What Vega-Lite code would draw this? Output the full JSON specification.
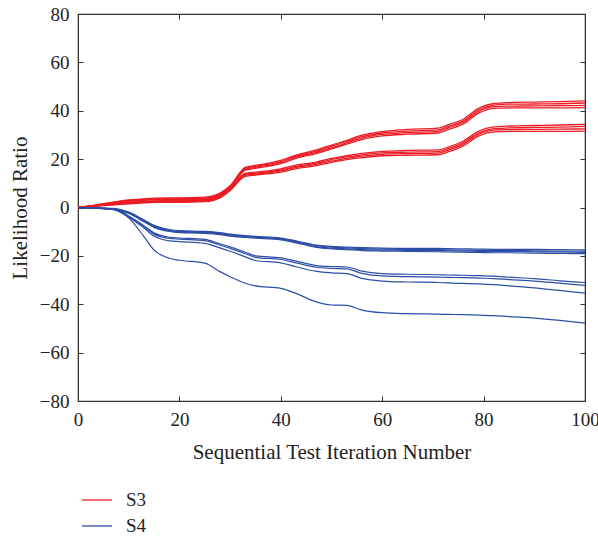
{
  "$schema": "https://vega.github.io/schema/vega-lite/v6.json",
  "width": 507,
  "height": 387,
  "autosize": {"type": "none"},
  "padding": {"left": 78, "top": 14, "right": 13, "bottom": 138},
  "background": "white",
  "config": {
    "view": {"stroke": "#333", "strokeWidth": 1.2},
    "font": "Liberation Serif",
    "axis": {
      "grid": false,
      "domainColor": "#333",
      "tickColor": "#333",
      "tickSize": -5,
      "labelFlush": false,
      "labelFont": "Liberation Serif",
      "titleFont": "Liberation Serif",
      "labelFontSize": 19,
      "titleFontSize": 21,
      "labelColor": "#222",
      "titleColor": "#222",
      "titleFontWeight": "normal"
    }
  },
  "datasets": {
    "red": [
      {"x":0,"U1":0,"U2":0,"U3":0,"U4":0,"L1":0,"L2":0,"L3":0,"L4":0},
      {"x":3,"U1":0.9,"U2":0.8,"U3":0.8,"U4":0.7,"L1":0.6,"L2":0.5,"L3":0.5,"L4":0.4},
      {"x":7,"U1":2.2,"U2":2.1,"U3":1.9,"U4":1.8,"L1":1.5,"L2":1.4,"L3":1.2,"L4":1.1},
      {"x":10,"U1":3.1,"U2":2.9,"U3":2.7,"U4":2.5,"L1":2.1,"L2":1.9,"L3":1.7,"L4":1.5},
      {"x":13,"U1":3.6,"U2":3.4,"U3":3.2,"U4":3.0,"L1":2.5,"L2":2.3,"L3":2.1,"L4":1.9},
      {"x":15,"U1":3.9,"U2":3.6,"U3":3.4,"U4":3.2,"L1":2.7,"L2":2.5,"L3":2.3,"L4":2.1},
      {"x":18,"U1":4.0,"U2":3.7,"U3":3.5,"U4":3.2,"L1":2.9,"L2":2.6,"L3":2.4,"L4":2.1},
      {"x":20,"U1":4.0,"U2":3.7,"U3":3.5,"U4":3.2,"L1":2.9,"L2":2.6,"L3":2.4,"L4":2.1},
      {"x":25,"U1":4.3,"U2":3.9,"U3":3.7,"U4":3.4,"L1":3.2,"L2":2.9,"L3":2.7,"L4":2.4},
      {"x":28,"U1":6.0,"U2":5.6,"U3":5.4,"U4":5.0,"L1":5.0,"L2":4.6,"L3":4.4,"L4":4.0},
      {"x":30,"U1":9.0,"U2":8.7,"U3":8.3,"U4":8.0,"L1":8.0,"L2":7.7,"L3":7.3,"L4":7.0},
      {"x":33,"U1":16.6,"U2":16.2,"U3":15.8,"U4":15.4,"L1":14.1,"L2":13.7,"L3":13.3,"L4":12.9},
      {"x":35,"U1":17.4,"U2":17.0,"U3":16.6,"U4":16.2,"L1":14.6,"L2":14.2,"L3":13.8,"L4":13.4},
      {"x":40,"U1":19.5,"U2":19.0,"U3":18.6,"U4":18.1,"L1":16.0,"L2":15.5,"L3":15.1,"L4":14.6},
      {"x":43,"U1":21.7,"U2":21.2,"U3":20.8,"U4":20.3,"L1":17.5,"L2":17.0,"L3":16.6,"L4":16.1},
      {"x":47,"U1":23.8,"U2":23.3,"U3":22.8,"U4":22.3,"L1":18.8,"L2":18.3,"L3":17.8,"L4":17.3},
      {"x":50,"U1":25.8,"U2":25.3,"U3":24.7,"U4":24.2,"L1":20.3,"L2":19.8,"L3":19.2,"L4":18.7},
      {"x":53,"U1":27.8,"U2":27.3,"U3":26.7,"U4":26.2,"L1":21.4,"L2":20.9,"L3":20.3,"L4":19.8},
      {"x":56,"U1":29.9,"U2":29.3,"U3":28.7,"U4":28.1,"L1":22.4,"L2":21.8,"L3":21.2,"L4":20.6},
      {"x":60,"U1":31.4,"U2":30.8,"U3":30.2,"U4":29.6,"L1":23.2,"L2":22.6,"L3":22.0,"L4":21.4},
      {"x":65,"U1":32.3,"U2":31.6,"U3":31.0,"U4":30.3,"L1":23.6,"L2":22.9,"L3":22.3,"L4":21.6},
      {"x":71,"U1":32.8,"U2":32.1,"U3":31.5,"U4":30.8,"L1":23.8,"L2":23.1,"L3":22.5,"L4":21.8},
      {"x":73,"U1":34.2,"U2":33.5,"U3":32.9,"U4":32.2,"L1":25.0,"L2":24.3,"L3":23.7,"L4":23.0},
      {"x":76,"U1":36.5,"U2":35.8,"U3":35.2,"U4":34.5,"L1":27.5,"L2":26.8,"L3":26.2,"L4":25.5},
      {"x":79,"U1":41.0,"U2":40.3,"U3":39.7,"U4":39.0,"L1":31.5,"L2":30.8,"L3":30.2,"L4":29.5},
      {"x":82,"U1":43.0,"U2":42.3,"U3":41.7,"U4":41.0,"L1":33.3,"L2":32.6,"L3":32.0,"L4":31.3},
      {"x":85,"U1":43.4,"U2":42.7,"U3":41.9,"U4":41.2,"L1":33.7,"L2":32.9,"L3":32.2,"L4":31.5},
      {"x":90,"U1":43.6,"U2":42.8,"U3":42.0,"U4":41.2,"L1":33.9,"L2":33.1,"L3":32.3,"L4":31.5},
      {"x":95,"U1":43.8,"U2":42.9,"U3":42.1,"U4":41.2,"L1":34.1,"L2":33.2,"L3":32.4,"L4":31.5},
      {"x":100,"U1":44.1,"U2":43.2,"U3":42.2,"U4":41.3,"L1":34.4,"L2":33.5,"L3":32.5,"L4":31.6}
    ],
    "blue": [
      {"x":0,"T1":0,"T2":0,"T3":0,"T4":0,"M1":0,"M2":0,"M3":0,"B":0},
      {"x":3,"T1":-0.1,"T2":-0.2,"T3":-0.2,"T4":-0.3,"M1":-0.2,"M2":-0.2,"M3":-0.3,"B":-0.2},
      {"x":7,"T1":-0.4,"T2":-0.5,"T3":-0.7,"T4":-0.8,"M1":-0.7,"M2":-0.8,"M3":-0.9,"B":-0.8},
      {"x":10,"T1":-1.9,"T2":-2.1,"T3":-2.3,"T4":-2.5,"M1":-3.5,"M2":-3.7,"M3":-4.0,"B":-4.3},
      {"x":13,"T1":-5.1,"T2":-5.4,"T3":-5.6,"T4":-5.9,"M1":-7.5,"M2":-7.9,"M3":-8.5,"B":-12.0},
      {"x":15,"T1":-7.4,"T2":-7.7,"T3":-7.9,"T4":-8.2,"M1":-10.5,"M2":-11.0,"M3":-11.8,"B":-17.6},
      {"x":18,"T1":-9.1,"T2":-9.4,"T3":-9.6,"T4":-9.9,"M1":-12.3,"M2":-12.8,"M3":-13.8,"B":-21.0},
      {"x":20,"T1":-9.6,"T2":-9.9,"T3":-10.1,"T4":-10.4,"M1":-12.6,"M2":-13.1,"M3":-14.1,"B":-21.8},
      {"x":25,"T1":-9.9,"T2":-10.2,"T3":-10.4,"T4":-10.7,"M1":-13.2,"M2":-13.7,"M3":-14.8,"B":-23.0},
      {"x":28,"T1":-10.4,"T2":-10.7,"T3":-10.9,"T4":-11.2,"M1":-15.0,"M2":-15.5,"M3":-16.7,"B":-26.5},
      {"x":30,"T1":-11.0,"T2":-11.3,"T3":-11.5,"T4":-11.8,"M1":-16.3,"M2":-16.9,"M3":-18.1,"B":-28.6},
      {"x":33,"T1":-11.6,"T2":-11.9,"T3":-12.1,"T4":-12.4,"M1":-18.5,"M2":-19.1,"M3":-20.4,"B":-31.3},
      {"x":35,"T1":-11.9,"T2":-12.2,"T3":-12.4,"T4":-12.7,"M1":-20.0,"M2":-20.6,"M3":-21.9,"B":-32.4},
      {"x":40,"T1":-12.6,"T2":-12.9,"T3":-13.1,"T4":-13.4,"M1":-20.8,"M2":-21.5,"M3":-22.9,"B":-33.4},
      {"x":43,"T1":-13.8,"T2":-14.1,"T3":-14.3,"T4":-14.6,"M1":-22.2,"M2":-22.9,"M3":-24.5,"B":-35.5},
      {"x":47,"T1":-15.5,"T2":-15.8,"T3":-16.2,"T4":-16.5,"M1":-24.0,"M2":-24.7,"M3":-26.4,"B":-39.0},
      {"x":50,"T1":-16.1,"T2":-16.4,"T3":-16.8,"T4":-17.1,"M1":-24.4,"M2":-25.2,"M3":-27.0,"B":-40.3},
      {"x":53,"T1":-16.4,"T2":-16.7,"T3":-17.1,"T4":-17.4,"M1":-24.6,"M2":-25.4,"M3":-27.3,"B":-40.5},
      {"x":56,"T1":-16.6,"T2":-17.0,"T3":-17.4,"T4":-17.8,"M1":-26.3,"M2":-27.2,"M3":-29.3,"B":-42.4},
      {"x":60,"T1":-16.8,"T2":-17.2,"T3":-17.6,"T4":-18.0,"M1":-27.3,"M2":-28.3,"M3":-30.4,"B":-43.5},
      {"x":65,"T1":-16.9,"T2":-17.3,"T3":-17.7,"T4":-18.1,"M1":-27.6,"M2":-28.6,"M3":-30.8,"B":-43.9},
      {"x":71,"T1":-16.9,"T2":-17.4,"T3":-17.8,"T4":-18.3,"M1":-27.8,"M2":-28.8,"M3":-31.0,"B":-44.1},
      {"x":73,"T1":-17.0,"T2":-17.5,"T3":-17.9,"T4":-18.4,"M1":-27.9,"M2":-28.9,"M3":-31.2,"B":-44.2},
      {"x":76,"T1":-17.1,"T2":-17.6,"T3":-18.0,"T4":-18.5,"M1":-28.0,"M2":-29.0,"M3":-31.4,"B":-44.3},
      {"x":79,"T1":-17.2,"T2":-17.7,"T3":-18.1,"T4":-18.6,"M1":-28.2,"M2":-29.2,"M3":-31.6,"B":-44.5},
      {"x":82,"T1":-17.3,"T2":-17.8,"T3":-18.2,"T4":-18.7,"M1":-28.4,"M2":-29.4,"M3":-31.9,"B":-44.7},
      {"x":85,"T1":-17.3,"T2":-17.8,"T3":-18.2,"T4":-18.7,"M1":-28.8,"M2":-29.8,"M3":-32.4,"B":-45.1},
      {"x":90,"T1":-17.3,"T2":-17.9,"T3":-18.3,"T4":-18.9,"M1":-29.4,"M2":-30.4,"M3":-33.2,"B":-45.7},
      {"x":95,"T1":-17.4,"T2":-18.0,"T3":-18.4,"T4":-19.0,"M1":-30.3,"M2":-31.3,"M3":-34.3,"B":-46.7},
      {"x":100,"T1":-17.5,"T2":-18.0,"T3":-18.6,"T4":-19.1,"M1":-31.0,"M2":-32.2,"M3":-35.4,"B":-47.8}
    ]
  },
  "resolve": {"axis": {"x": "independent", "y": "independent"}},
  "layer": [
    {
      "data": {"name": "red"},
      "transform": [{"fold": ["U1","U2","U3","U4","L1","L2","L3","L4"], "as": ["run", "v"]}],
      "mark": {"type": "line", "strokeWidth": 1.3, "interpolate": "monotone"},
      "encoding": {
        "x": {"field": "x", "type": "quantitative", "scale": {"domain": [0, 100], "nice": false},
              "axis": {"orient": "bottom", "title": "Sequential Test Iteration Number", "values": [0,20,40,60,80,100], "labelPadding": 14, "titlePadding": 12}},
        "y": {"field": "v", "type": "quantitative", "scale": {"domain": [-80, 80], "nice": false},
              "axis": {"orient": "left", "title": "Likelihood Ratio", "values": [-80,-60,-40,-20,0,20,40,60,80], "labelPadding": 14, "titlePadding": 9, "labelExpr": "replace(datum.label, '-', '−')"}},
        "color": {"datum": "S3", "type": "nominal",
                  "scale": {"domain": ["S3", "S4"], "range": ["#ec1c24", "#2c4ea6"]},
                  "legend": {"title": null, "orient": "none", "legendX": 3, "legendY": 470, "direction": "vertical",
                             "symbolType": "stroke", "symbolSize": 900, "symbolStrokeWidth": 1.3,
                             "labelFont": "Liberation Serif", "labelFontSize": 19, "labelColor": "#222", "labelOffset": 13, "rowPadding": 0, "padding": 0}},
        "detail": {"field": "run"}
      }
    },
    {
      "data": {"name": "blue"},
      "transform": [{"fold": ["T1","T2","T3","T4","M1","M2","M3","B"], "as": ["run", "v"]}],
      "mark": {"type": "line", "strokeWidth": 1.2, "interpolate": "monotone"},
      "encoding": {
        "x": {"field": "x", "type": "quantitative", "axis": null},
        "y": {"field": "v", "type": "quantitative", "axis": null},
        "color": {"datum": "S4", "type": "nominal"},
        "detail": {"field": "run"}
      }
    },
    {
      "data": {"name": "blue"},
      "mark": {"type": "point", "opacity": 0},
      "encoding": {
        "x": {"field": "x", "type": "quantitative", "axis": {"orient": "top", "labels": false, "title": null, "values": [0,20,40,60,80,100]}},
        "y": {"field": "B", "type": "quantitative", "axis": {"orient": "right", "labels": false, "title": null, "values": [-80,-60,-40,-20,0,20,40,60,80]}}
      }
    }
  ]
}
